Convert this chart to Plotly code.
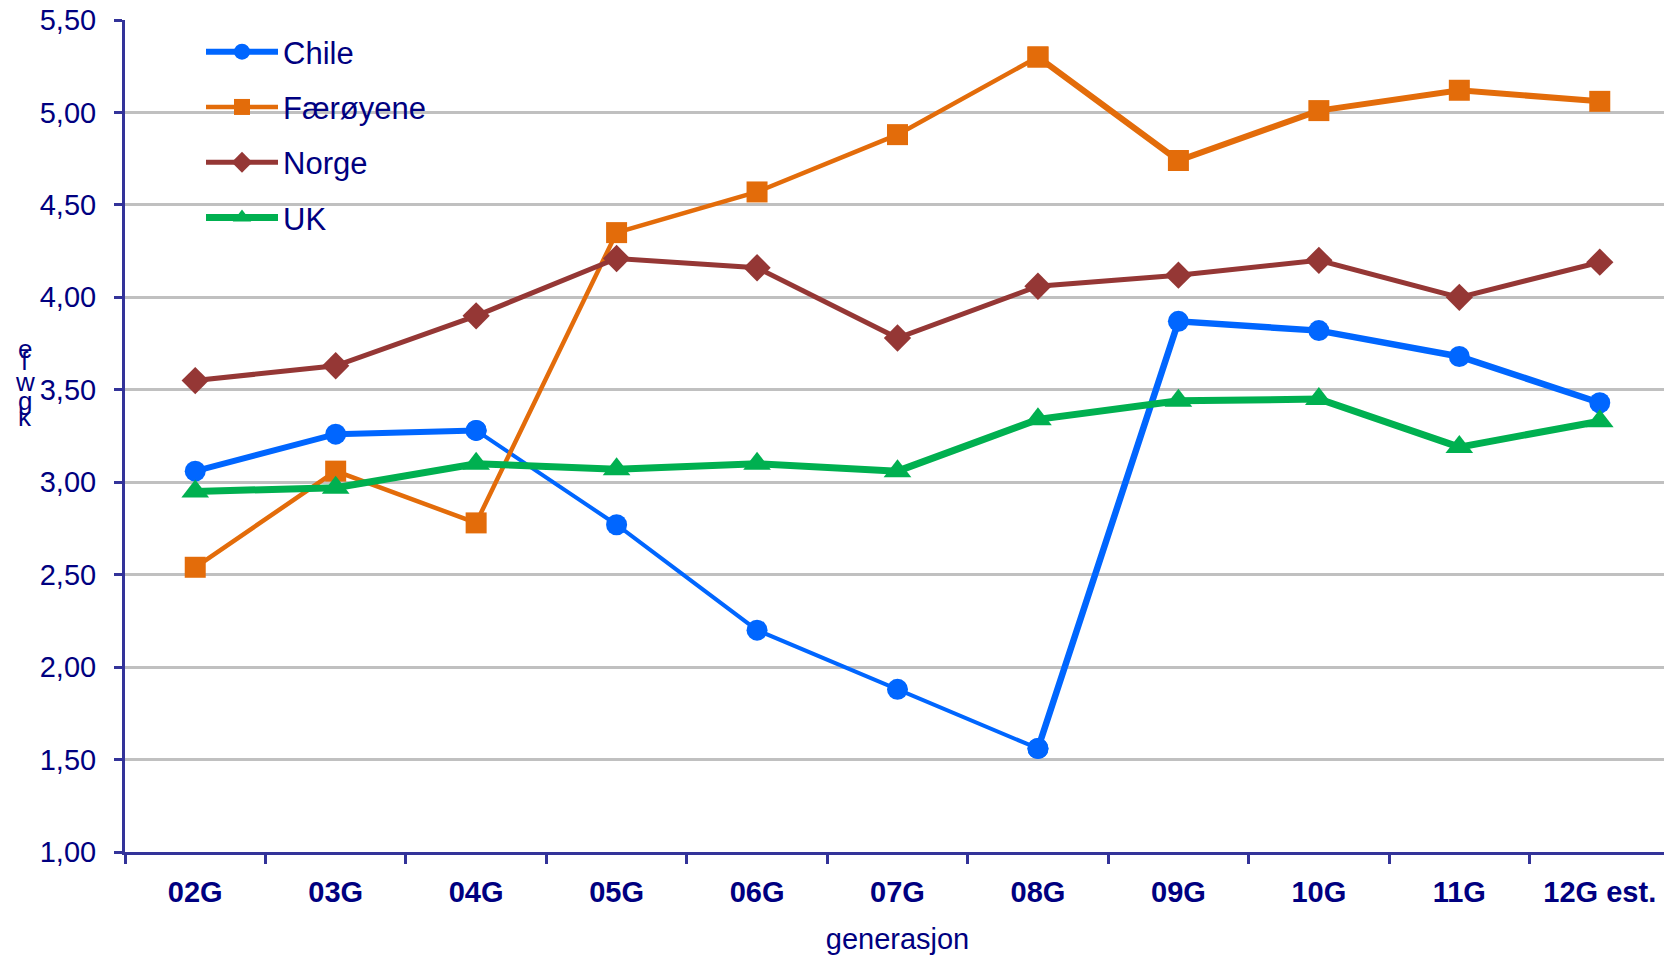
import plotly.graph_objects as go

categories = ["02G", "03G", "04G", "05G", "06G", "07G", "08G", "09G", "10G", "11G", "12G est."]
chile = [3.06, 3.26, 3.28, 2.77, 2.20, 1.88, 1.56, 3.87, 3.82, 3.68, 3.43]
faroe = [2.54, 3.06, 2.78, 4.35, 4.57, 4.88, 5.30, 4.74, 5.01, 5.12, 5.06]
norge = [3.55, 3.63, 3.90, 4.21, 4.16, 3.78, 4.06, 4.12, 4.20, 4.00, 4.19]
uk = [2.95, 2.97, 3.10, 3.07, 3.10, 3.06, 3.34, 3.44, 3.45, 3.19, 3.33]
y_ticks = [1.0, 1.5, 2.0, 2.5, 3.0, 3.5, 4.0, 4.5, 5.0, 5.5]
y_label_letters = ["e", "f", "w", "g", "k"]

NAVY = "#000080"
AXIS = "#333399"
FONT = "Liberation Sans, Arial, sans-serif"

# page body has 8px margin; figure sized to fill the rest of the window
W, H = 1664, 950
L, R, T, B = 117, 2, 12, 106
PW, PH = W - L - R, H - T - B

fig = go.Figure()

# (name, values, colour, symbol, marker size, [(start, end, width), ...])
series = [
    ("Chile", chile, "#0066ff", "circle", 21, [(0, 2, 6), (2, 6, 4), (6, 10, 6.5)]),
    ("Færøyene", faroe, "#e36c0a", "square", 21, [(0, 6, 4.5), (6, 10, 6)]),
    ("Norge", norge, "#953735", "diamond", 21, [(0, 10, 5)]),
    ("UK", uk, "#00b050", "triangle-up", 24, [(0, 10, 7)]),
]

for name, vals, color, sym, msize, segs in series:
    for i, (a, b, w) in enumerate(segs):
        fig.add_trace(go.Scatter(
            x=categories[a:b + 1], y=vals[a:b + 1], mode="lines+markers",
            name=name, legendgroup=name, showlegend=(i == 0),
            line=dict(color=color, width=w),
            marker=dict(symbol=sym, size=msize, color=color),
        ))

# stacked y-axis label letters (overlapping, as in the original)
label_py = [341, 353, 374, 393, 409]
for ch, py in zip(y_label_letters, label_py):
    fig.add_annotation(
        text=ch, xref="paper", yref="paper",
        x=(17 - L) / PW, y=(H - B - py) / PH,
        showarrow=False, xanchor="center", yanchor="middle",
        font=dict(family=FONT, size=26, color=NAVY),
    )

fig.update_layout(
    width=W, height=H,
    margin=dict(l=L, r=R, t=T, b=B, pad=0, autoexpand=False),
    paper_bgcolor="white", plot_bgcolor="white",
    separators=",.",
    font=dict(family=FONT, color=NAVY, size=29),
    showlegend=True,
    legend=dict(
        x=(193 - L) / PW, y=(H - B - 17) / PH, xanchor="left", yanchor="top",
        bgcolor="rgba(0,0,0,0)", borderwidth=0,
        font=dict(size=31, color=NAVY, family=FONT),
        tracegroupgap=12, traceorder="grouped", itemwidth=72,
    ),
    xaxis=dict(
        type="category", categoryorder="array", categoryarray=categories,
        range=[-0.5, len(categories) - 0.5],
        showline=True, linecolor=AXIS, linewidth=3,
        ticks="outside", tickson="boundaries", ticklen=9, tickwidth=3, tickcolor=AXIS,
        tickfont=dict(size=29, color=NAVY, family=FONT, weight="bold"),
        ticklabelstandoff=12, automargin=False,
        showgrid=False, zeroline=False,
        title=dict(text="generasjon", font=dict(size=29, color=NAVY), standoff=22),
    ),
    yaxis=dict(
        range=[1.0, 5.5], tickvals=y_ticks, tickformat=".2f",
        showline=True, linecolor=AXIS, linewidth=3,
        ticks="outside", ticklen=8, tickwidth=3, tickcolor=AXIS,
        tickfont=dict(size=29, color=NAVY),
        ticklabelstandoff=12, ticklabeloverflow="allow", automargin=False,
        showgrid=True, gridcolor="#c0c0c0", gridwidth=3,
        zeroline=False,
    ),
)

fig.write_html("out.html")
